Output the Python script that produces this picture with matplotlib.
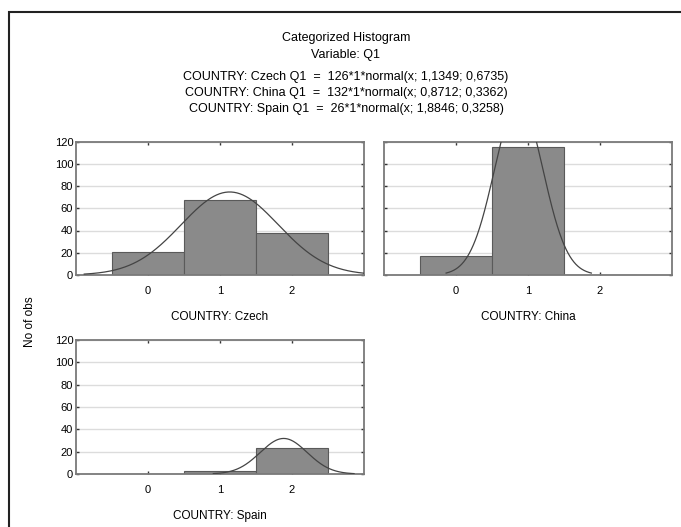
import matplotlib
matplotlib.use("Agg")
import matplotlib.pyplot as plt
import numpy as np
from matplotlib.patches import Rectangle

plt.rcParams['font.family'] = ['Liberation Sans', 'DejaVu Sans']

# Data
countries = ['Czech', 'China', 'Spain']
categories = [0, 1, 2]
counts = {
    'Czech': [21, 67, 38],
    'China': [17, 115, 0],
    'Spain': [0, 3, 23],
}
fit_n = {'Czech': 126, 'China': 132, 'Spain': 26}
fit_mean = {'Czech': 1.1349, 'China': 0.8712, 'Spain': 1.8846}
fit_sd = {'Czech': 0.6735, 'China': 0.3362, 'Spain': 0.3258}
yticks = [0, 20, 40, 60, 80, 100, 120]

W, H = 681, 527
fig = plt.figure(figsize=(W / 100, H / 100), dpi=100)

# outer frame (runs off the right/bottom edge)
fig.patches.append(Rectangle((9 / W, -0.1), 1.2, 1.1 - 12 / H, transform=fig.transFigure,
                             fill=False, ec='#222222', lw=1.5))


def fx(px):
    return px / W


def fy(py):
    return 1 - py / H


# axes boxes in pixels: left, top, right, bottom
boxes = {
    'Czech': (76, 141.5, 364, 275),
    'China': (384, 141.5, 672, 275),
    'Spain': (76, 340, 364, 474),
}

for c in countries:
    l, t, r, b = boxes[c]
    ax = fig.add_axes([fx(l), fy(b), fx(r - l), (b - t) / H])
    ax.set_xlim(-1, 3)
    ax.set_ylim(0, 120)
    ax.set_yticks(yticks)
    ax.set_xticks(categories)
    ax.grid(axis='y', color='#dcdcdc', lw=1.0)
    ax.set_axisbelow(True)
    ax.bar(categories, counts[c], width=1.0, color='#8a8a8a', edgecolor='#5a5a5a', lw=0.8, zorder=2)
    mu, sd, n = fit_mean[c], fit_sd[c], fit_n[c]
    xs = np.linspace(mu - 3 * sd, mu + 3 * sd, 300)
    ys = n * 1 * np.exp(-0.5 * ((xs - mu) / sd) ** 2) / (sd * np.sqrt(2 * np.pi))
    ax.plot(xs, ys, color='#444444', lw=0.9, zorder=3, clip_on=True)
    for s in ax.spines.values():
        s.set_color('#7a7a7a')
        s.set_linewidth(1.3)
    ax.tick_params(direction='in', length=2.5, width=1, color='#333333',
                   top=True, right=True, labelsize=8)
    ax.tick_params(axis='y', pad=2)
    ax.tick_params(axis='x', pad=8)
    if c == 'China':
        ax.set_yticklabels([])
    fig.text(fx((l + r) / 2), fy(b + 42), 'COUNTRY: ' + c,
             ha='center', va='center', fontsize=8.5)

# titles
fig.text(fx(346), fy(38), 'Categorized Histogram', ha='center', va='center', fontsize=9)
fig.text(fx(346), fy(55), 'Variable: Q1', ha='center', va='center', fontsize=9)
for i, c in enumerate(countries):
    eq = 'COUNTRY: %s Q1  =  %d*1*normal(x; %s; %s)' % (
        c, fit_n[c], ('%.4f' % fit_mean[c]).replace('.', ','), ('%.4f' % fit_sd[c]).replace('.', ','))
    fig.text(fx(346), fy(77 + 16 * i), eq, ha='center', va='center', fontsize=9)

fig.text(fx(30), fy(322), 'No of obs', ha='center', va='center', rotation=90, fontsize=8.5)

fig.savefig('out.png', dpi=100)
